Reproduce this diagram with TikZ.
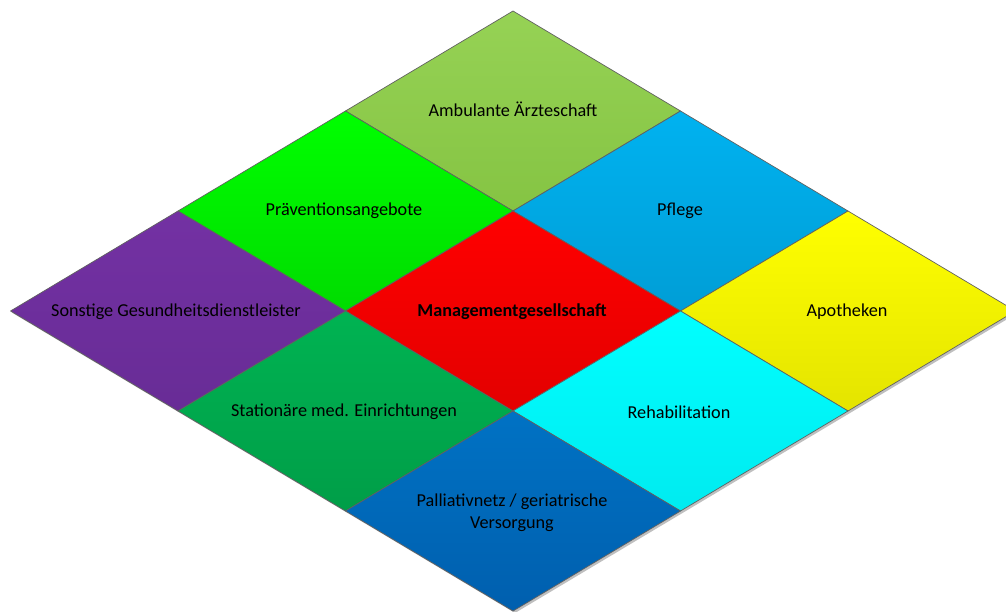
\documentclass[tikz,border=0pt]{standalone}
\usepackage{fontspec}
\setmainfont{Carlito}
\begin{document}
\begin{tikzpicture}[x=1pt,y=-1pt,
  cell/.style={draw=black!62, line width=0.7pt, line join=round},
  lbl/.style={font=\fontsize{18.2}{22}\selectfont, align=center, text=black}]
\useasboundingbox (0,0) rectangle (1006,612);
% grid points of the 3x3 rhombus lattice
\foreach \i in {0,...,3}{\foreach \j in {0,...,3}{
  \coordinate (g\i\j) at ({513+167.5*(\i-\j)},{11+100*(\i+\j)});}}
% soft shadow along the outer edge
\fill[black!25] ([shift={(2,2)}]g00) -- ([shift={(2,2)}]g30) -- ([shift={(2,2)}]g33) -- ([shift={(2,2)}]g03) -- cycle;
% cells
\path[cell, top color={rgb,255:red,150;green,210;blue,85}, bottom color={rgb,255:red,133;green,196;blue,67}] (g00) -- (g10) -- (g11) -- (g01) -- cycle;
\path[cell, top color={rgb,255:red,0;green,178;blue,240}, bottom color={rgb,255:red,0;green,158;blue,214}] (g10) -- (g20) -- (g21) -- (g11) -- cycle;
\path[cell, top color={rgb,255:red,255;green,255;blue,0}, bottom color={rgb,255:red,228;green,228;blue,0}] (g20) -- (g30) -- (g31) -- (g21) -- cycle;
\path[cell, top color={rgb,255:red,0;green,255;blue,0}, bottom color={rgb,255:red,0;green,220;blue,0}] (g01) -- (g11) -- (g12) -- (g02) -- cycle;
\path[cell, top color={rgb,255:red,255;green,0;blue,0}, bottom color={rgb,255:red,227;green,0;blue,0}] (g11) -- (g21) -- (g22) -- (g12) -- cycle;
\path[cell, top color={rgb,255:red,0;green,255;blue,255}, bottom color={rgb,255:red,0;green,235;blue,240}] (g21) -- (g31) -- (g32) -- (g22) -- cycle;
\path[cell, top color={rgb,255:red,115;green,49;blue,163}, bottom color={rgb,255:red,104;green,44;blue,150}] (g02) -- (g12) -- (g13) -- (g03) -- cycle;
\path[cell, top color={rgb,255:red,0;green,179;blue,82}, bottom color={rgb,255:red,0;green,158;blue,72}] (g12) -- (g22) -- (g23) -- (g13) -- cycle;
\path[cell, top color={rgb,255:red,0;green,114;blue,196}, bottom color={rgb,255:red,0;green,95;blue,174}] (g22) -- (g32) -- (g33) -- (g23) -- cycle;
% labels
\node[lbl] (amb) at (513,109) {Ambulante Ärzteschaft};
\node[lbl] (pfl) at (680,211) {Pflege};
\node[lbl] (apo) at (847,312) {Apotheken};
\node[lbl] (prae) at (344,211) {Präventionsangebote};
\node[lbl, font=\fontsize{18.2}{22}\selectfont\bfseries] (man) at (512,312) {Managementgesellschaft};
\node[lbl] (reh) at (679,412) {Rehabilitation};
\node[lbl] (son) at (176,312) {Sonstige Gesundheitsdienstleister};
\node[lbl] (sta) at (344,412) {Stationäre med. Einrichtungen};
\node[lbl] (pal) at (512,513) {Palliativnetz / geriatrische\\Versorgung};
\end{tikzpicture}
\end{document}
